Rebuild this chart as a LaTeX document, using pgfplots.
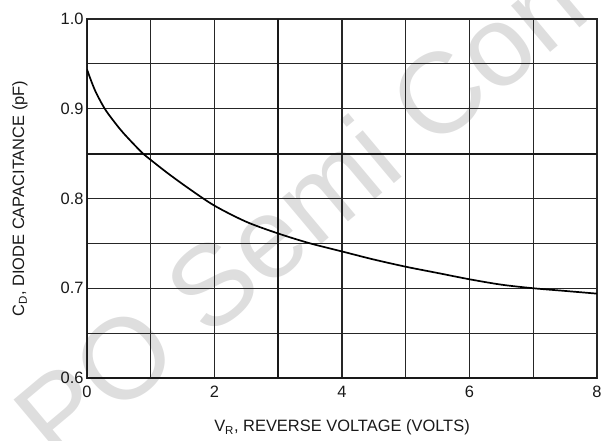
\documentclass[border=0pt]{standalone}
\usepackage{pgfplots}
\pgfplotsset{compat=1.18}
\usepackage{fontspec}
\setmainfont{Liberation Sans}
\begin{document}
\begin{tikzpicture}
\useasboundingbox (-87bp,-63bp) rectangle (518bp,378bp);
\node[rotate=40, text=black!13, font=\fontsize{115}{115}\selectfont, inner sep=0pt] at (212bp,168bp) {PO Semi Con};
\begin{axis}[
  at={(0,0)}, anchor=south west,
  scale only axis, width=510bp, height=359bp,
  xmin=0, xmax=8, ymin=0.6, ymax=1.0,
  xtick={0,2,4,6,8}, minor xtick={1,3,5,7},
  ytick={0.6,0.7,0.8,0.9,1.0}, minor ytick={0.65,0.75,0.85,0.95},
  extra x ticks={3}, extra x tick labels={},
  extra y ticks={0.85}, extra y tick labels={},
  extra tick style={grid=major, major grid style={black!90, line width=2bp}},
  grid=both,
  major grid style={black!85, line width=1.1bp},
  minor grid style={black!85, line width=1.1bp},
  tick style={draw=none},
  axis line style={black!85, line width=1.1bp},
  /pgf/number format/assume math mode=true,
  ticklabel style={font=\fontsize{16.5}{16.5}\selectfont, text=black!90},
  xticklabel style={yshift=-5bp},
  yticklabel style={/pgf/number format/.cd, fixed, fixed zerofill, precision=1},
  xlabel={V\textsubscript{R}, REVERSE VOLTAGE (VOLTS)},
  ylabel={C\textsubscript{D}, DIODE CAPACITANCE (pF)},
  label style={font=\fontsize{16.5}{16.5}\selectfont, text=black!90},
  xlabel style={at={(axis description cs:0.5,-0.137)}, anchor=center},
  ylabel style={at={(axis description cs:-0.1314,0.5)}, anchor=center},
]
\draw[black!90, line width=2.2bp] (rel axis cs:0,1) -- (rel axis cs:0,0) -- (rel axis cs:1,0);
\addplot[smooth, black, line width=1.7bp] coordinates {
(0,0.944) (0.05,0.934) (0.135,0.919) (0.27,0.901) (0.4,0.888) (0.57,0.873)
(0.85,0.852) (1.0,0.843) (1.27,0.828) (1.6,0.811) (2.0,0.792) (2.5,0.774)
(3.0,0.761) (3.5,0.750) (4.0,0.741) (4.5,0.732) (5.0,0.724) (5.5,0.717)
(6.0,0.710) (6.5,0.704) (7.0,0.700) (7.5,0.697) (8.0,0.694)
};
\end{axis}
\end{tikzpicture}
\end{document}
